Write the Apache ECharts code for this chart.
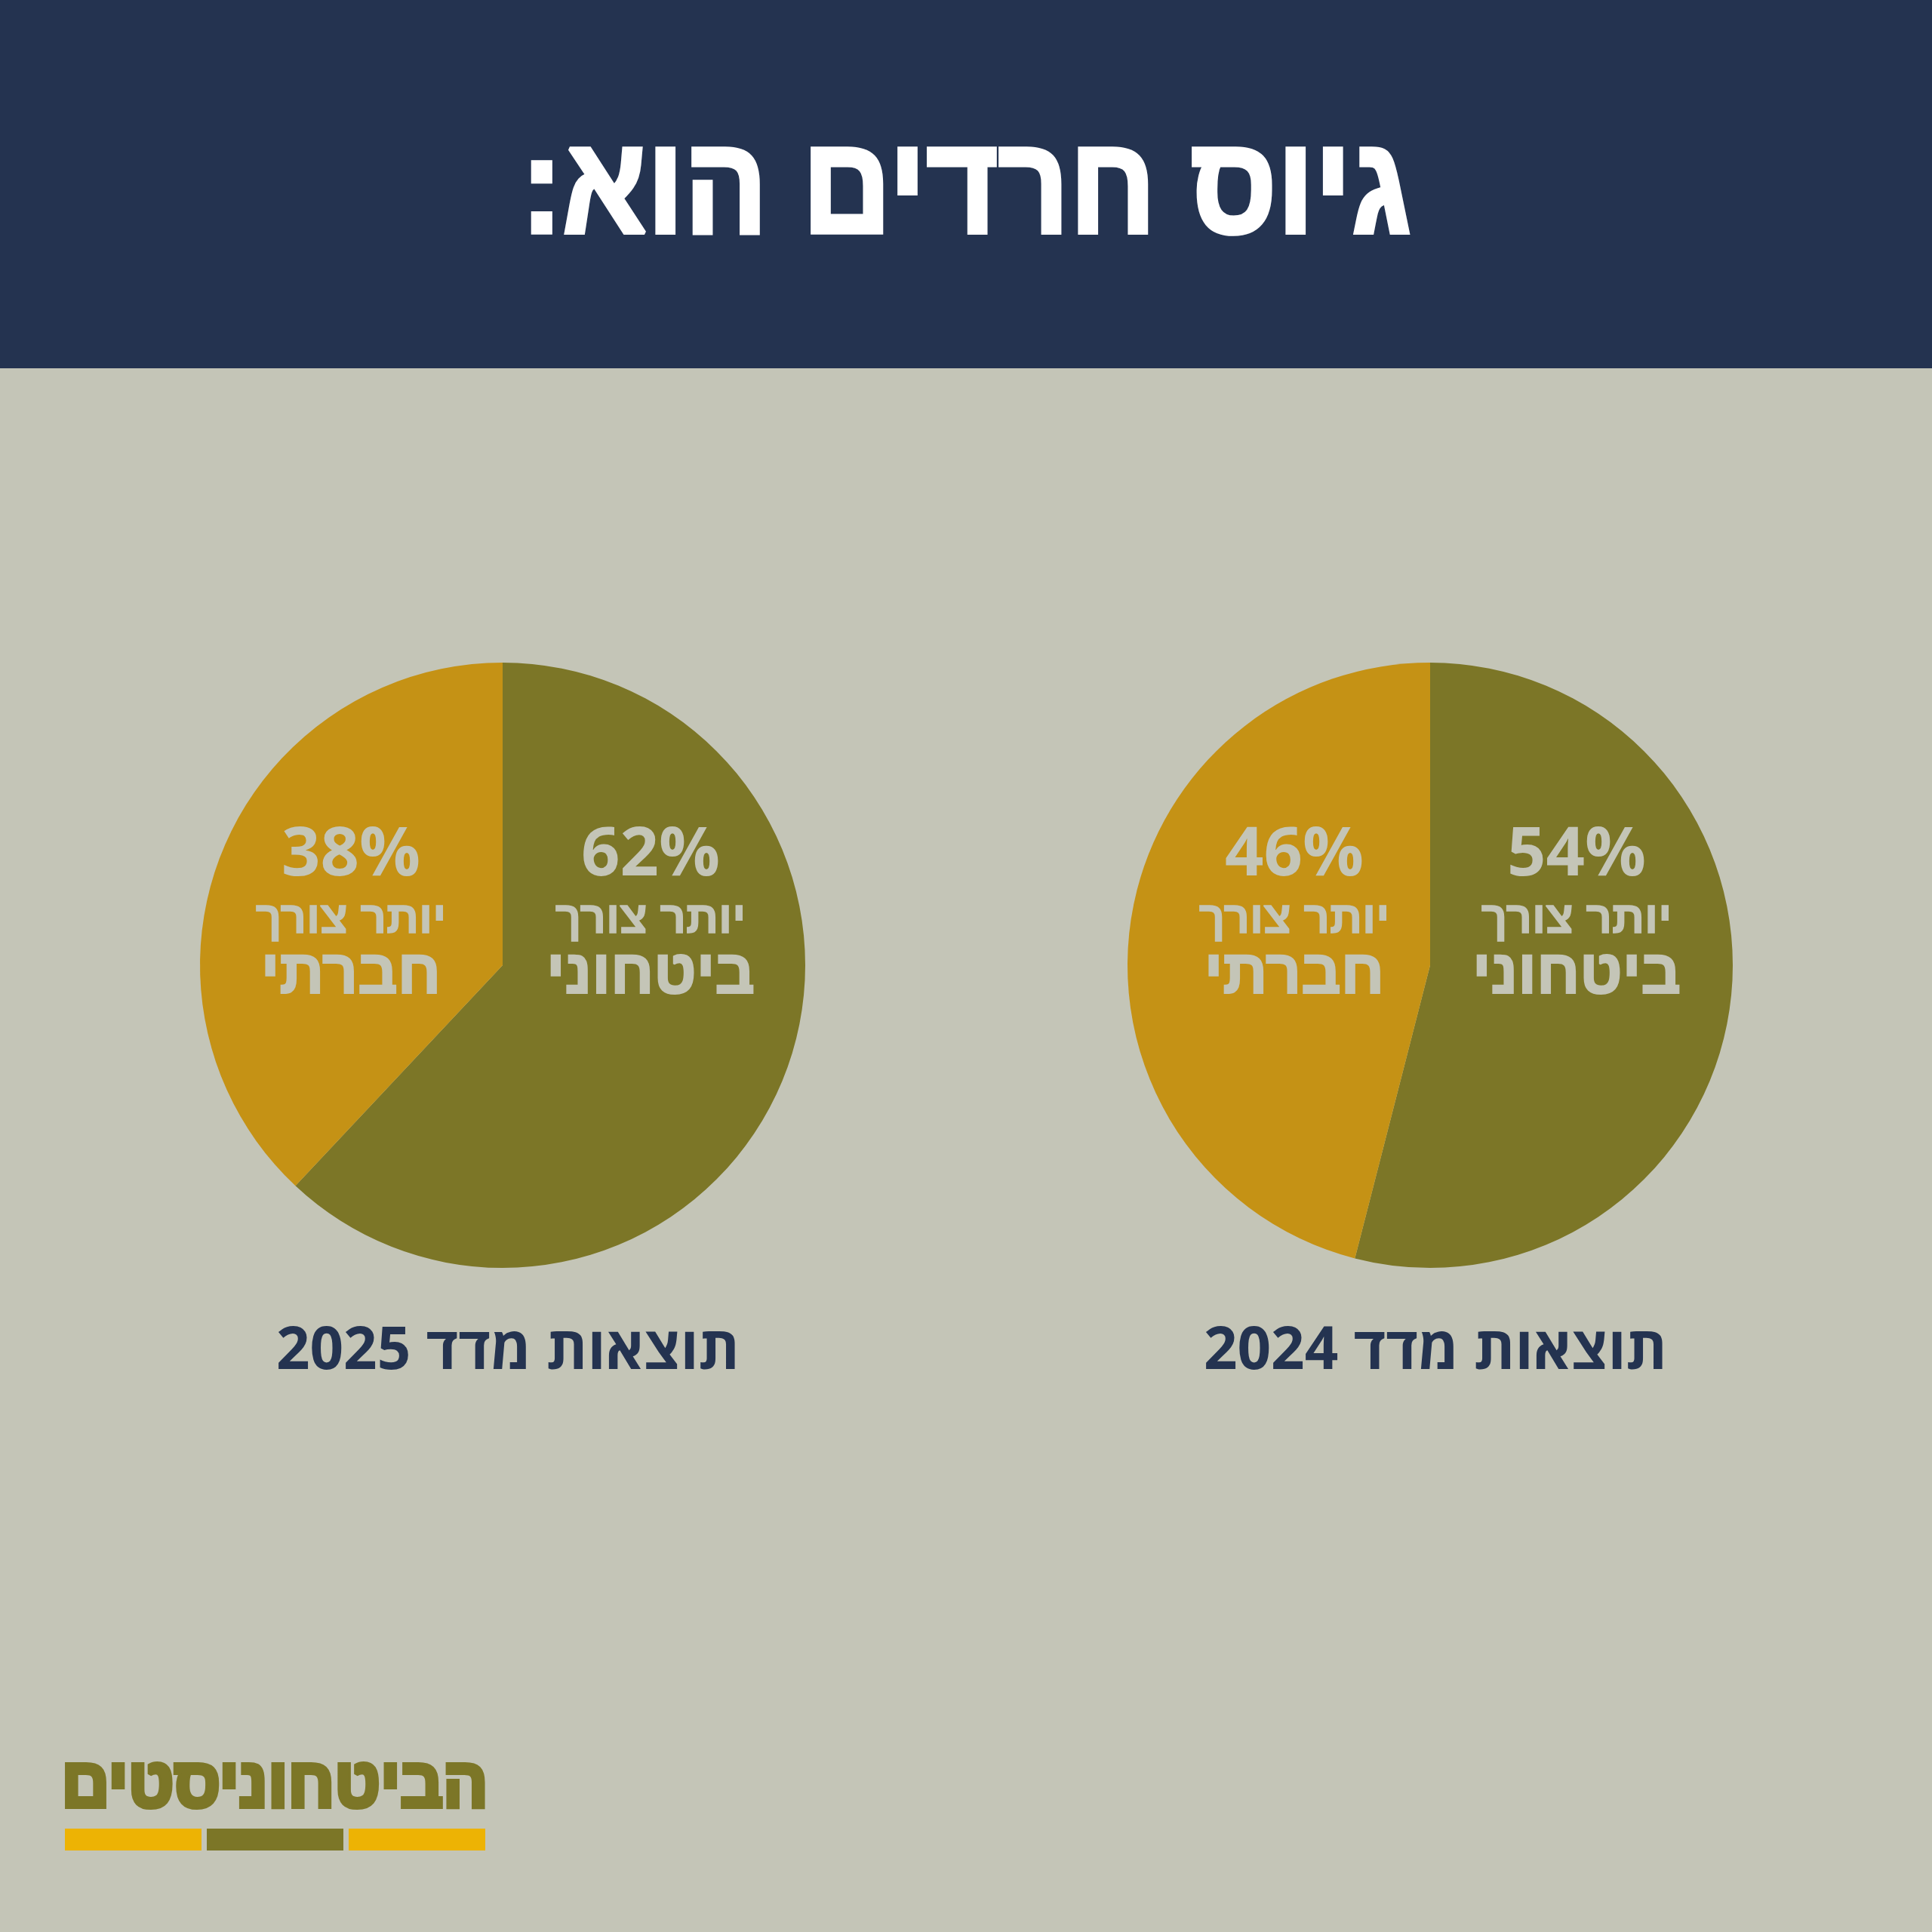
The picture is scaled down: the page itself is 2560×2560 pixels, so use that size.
<!DOCTYPE html>
<html>
<head>
<meta charset="utf-8">
<script src="https://cdn.jsdelivr.net/npm/echarts@6/dist/echarts.min.js"></script>
<style>
html,body{margin:0;padding:0;background:#c4c5b7;}
#chart{width:2560px;height:2560px;}
</style>
</head>
<body>
<div id="chart"></div>
<script>
// ---- data ----
const titleText = 'גיוס חרדים הוא:';
const captionPrefix = 'תוצאות מדד';
const years = ['2025', '2024'];
const categories = ['ביטחוני', 'חברתי'];
const labelLead = 'יותר צורך';
const values2025 = [62, 38];
const values2024 = [54, 46];
const logoText = 'הביטחוניסטים';

// ---- styles / layout ----
const NAVY = '#243350', BG = '#c4c5b7', OLIVE = '#7c7627', GOLD = '#c59215', YELLOW = '#edb304';
const centers = [[666, 1279], [1895, 1279]];
const radius = 401;
const labelOffsets = [[[196, -71], [-201, -71]], [[194, -71], [-180, -71]]];
const RLM = '\u200F';
const FONT = '"Liberation Sans", "DejaVu Sans", sans-serif';
const NUMFONT = '"Open Sans", "Liberation Sans", sans-serif';

const seriesValues = [values2025, values2024];

const chart = echarts.init(document.getElementById('chart'), null, {renderer: 'canvas'});

const series = seriesValues.map((vals, si) => ({
  type: 'pie',
  center: centers[si],
  radius: radius,
  startAngle: 90,
  clockwise: true,
  silent: true,
  animation: false,
  itemStyle: {borderWidth: 0},
  color: [OLIVE, GOLD],
  labelLine: {show: false},
  data: vals.map((v, di) => ({name: categories[di], value: v})),
  label: {
    show: true,
    position: 'inside',
    formatter: p => '{p|' + p.value + '%}\n{a|' + labelLead + '}\n{b|' + p.name + '}',
    rich: {
      p: {fontSize: 90, fontWeight: 'bold', color: BG, fontFamily: NUMFONT, lineHeight: 100, align: 'center'},
      a: {fontSize: 60, fontWeight: 'bold', color: BG, fontFamily: FONT, lineHeight: 70, align: 'center',
          textBorderColor: BG, textBorderWidth: 1.5},
      b: {fontSize: 82, fontWeight: 'bold', color: BG, fontFamily: FONT, lineHeight: 77, align: 'center',
          textBorderColor: BG, textBorderWidth: 2.5}
    }
  },
  labelLayout: function (params) {
    const c = centers[params.seriesIndex];
    const o = labelOffsets[params.seriesIndex][params.dataIndex];
    return {x: c[0] + o[0], y: c[1] + o[1], align: 'center', verticalAlign: 'middle'};
  }
}));

const graphics = [
  {type: 'rect', shape: {x: 0, y: 0, width: 2560, height: 488}, style: {fill: NAVY}, z: -1},
  {type: 'text', x: 1280, y: 257, scaleY: 1.12, originX: 0, originY: 0,
    style: {text: titleText + RLM, x: 0, y: 0, align: 'center', verticalAlign: 'middle',
    fill: '#ffffff', stroke: '#ffffff', lineWidth: 5, font: 'bold 164px ' + FONT}}
];
years.forEach((y, i) => {
  graphics.push({type: 'text', style: {text: captionPrefix + ' ' + y, x: centers[i][0] + 7, y: 1792,
    align: 'center', verticalAlign: 'middle', fill: NAVY, font: 'bold 78px ' + NUMFONT}});
});
graphics.push({type: 'text', x: 364, y: 2368, scaleX: 0.98, scaleY: 1.03,
  style: {text: logoText, x: 0, y: 0, align: 'center', verticalAlign: 'middle',
  fill: OLIVE, stroke: OLIVE, lineWidth: 6, font: 'bold 90px ' + FONT}});
[[86, YELLOW], [274, OLIVE], [462, YELLOW]].forEach(b => {
  graphics.push({type: 'rect', shape: {x: b[0], y: 2423, width: 181, height: 29}, style: {fill: b[1]}});
});

chart.setOption({
  backgroundColor: BG,
  animation: false,
  series: series,
  graphic: {elements: graphics}
});
</script>
</body>
</html>
